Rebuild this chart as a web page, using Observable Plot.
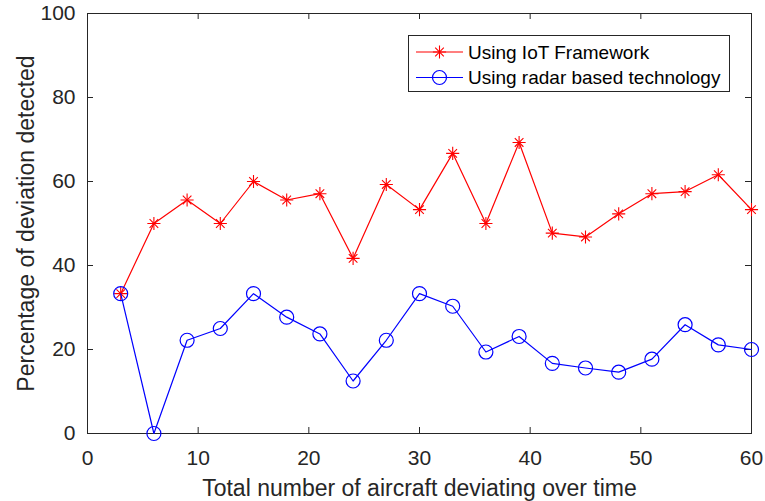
<!DOCTYPE html>
<html>
<head>
<meta charset="utf-8">
<script src="https://cdn.jsdelivr.net/npm/d3@7"></script>
<script src="https://cdn.jsdelivr.net/npm/@observablehq/plot@0.6"></script>
<style>
  html, body { margin: 0; padding: 0; background: #fff; }
  #wrap { position: relative; width: 765px; height: 501px; }
  #legend { position: absolute; left: 408px; top: 35px; }
</style>
</head>
<body>
<div id="wrap"></div>
<script>
const xValues = [3, 6, 9, 12, 15, 18, 21, 24, 27, 30, 33, 36, 39, 42, 45, 48, 51, 54, 57, 60];
const iotValues = [33.3, 50.0, 55.6, 50.0, 60.0, 55.6, 57.1, 41.7, 59.3, 53.3, 66.7, 50.0, 69.3, 47.7, 46.8, 52.3, 57.1, 57.6, 61.6, 53.3];
const radarValues = [33.3, 0.0, 22.2, 25.0, 33.3, 27.7, 23.7, 12.5, 22.2, 33.3, 30.3, 19.4, 23.1, 16.7, 15.6, 14.6, 17.7, 25.9, 21.1, 20.0];
const seriesNames = ["Using IoT Framework", "Using radar based technology"];
const xTicks = [0, 10, 20, 30, 40, 50, 60];
const yTicks = [0, 20, 40, 60, 80, 100];
const xLabel = "Total number of aircraft deviating over time";
const yLabel = "Percentage of deviation detected";

const iot = xValues.map((x, i) => ({x, y: iotValues[i]}));
const radar = xValues.map((x, i) => ({x, y: radarValues[i]}));

const axisColor = "#262626";
const font = "'Liberation Sans', Arial, Helvetica, sans-serif";
const W = 765, H = 501, mL = 87, mR = 14, mT = 13, mB = 68;
const plotH = H - mT - mB;
const tickLen = 6;

const chart = Plot.plot({
  width: W, height: H,
  marginLeft: mL, marginRight: mR, marginTop: mT, marginBottom: mB,
  style: {fontFamily: font, fontSize: "21px", color: axisColor, background: "#fff"},
  x: {domain: [0, 60]},
  y: {domain: [0, 100]},
  marks: [
    Plot.axisX({ticks: xTicks, tickSize: 0, tickPadding: 17, fontSize: 21, label: null, stroke: axisColor, fill: axisColor}),
    Plot.axisY({ticks: yTicks, tickSize: 0, tickPadding: 12, fontSize: 21, label: null, stroke: axisColor, fill: axisColor}),
    // inward ticks on all four sides
    Plot.ruleX(xTicks, {x: d => d, insetTop: plotH - tickLen, stroke: axisColor, strokeWidth: 1}),
    Plot.ruleX(xTicks, {x: d => d, insetBottom: plotH - tickLen, stroke: axisColor, strokeWidth: 1}),
    Plot.ruleY(yTicks, {y: d => d, insetRight: (W - mL - mR) - tickLen, stroke: axisColor, strokeWidth: 1}),
    Plot.ruleY(yTicks, {y: d => d, insetLeft: (W - mL - mR) - tickLen, stroke: axisColor, strokeWidth: 1}),
    Plot.frame({stroke: axisColor, strokeWidth: 1}),
    // IoT series
    Plot.line(iot, {x: "x", y: "y", stroke: "#ff0000", strokeWidth: 1.2}),
    Plot.dot(iot, {x: "x", y: "y", symbol: "plus", r: 4.3, stroke: "#ff0000", fill: "none", strokeWidth: 1.1}),
    Plot.dot(iot, {x: "x", y: "y", symbol: "times", r: 4.0, stroke: "#ff0000", fill: "none", strokeWidth: 1.1}),
    // radar series
    Plot.line(radar, {x: "x", y: "y", stroke: "#0000ff", strokeWidth: 1.2}),
    Plot.dot(radar, {x: "x", y: "y", symbol: "circle", r: 7, stroke: "#0000ff", fill: "none", strokeWidth: 1.2}),
    // axis labels
    Plot.text([xLabel], {text: d => d, frameAnchor: "bottom", dy: 55, lineAnchor: "middle", textAnchor: "middle", fontSize: 23, fill: axisColor}),
    Plot.text([yLabel], {text: d => d, frameAnchor: "left", dx: -61, rotate: -90, lineAnchor: "middle", textAnchor: "middle", fontSize: 23, fill: axisColor})
  ]
});

const wrap = document.getElementById("wrap");
wrap.appendChild(chart);

// Legend
const lw = 322, lh = 57;
const legend = d3.select(wrap).append("div").attr("id", "legend");
const svg = legend.append("svg").attr("width", lw).attr("height", lh)
  .style("display", "block").style("font-family", font);
svg.append("rect").attr("x", 0.5).attr("y", 0.5).attr("width", lw - 1).attr("height", lh - 1)
  .attr("fill", "#fff").attr("stroke", axisColor).attr("stroke-width", 1);
const colors = ["#ff0000", "#0000ff"];
const rowsY = [17, 42.5];
seriesNames.forEach((name, i) => {
  const g = svg.append("g").attr("transform", `translate(0,${rowsY[i]})`);
  g.append("line").attr("x1", 8).attr("x2", 55).attr("y1", 0).attr("y2", 0)
    .attr("stroke", colors[i]).attr("stroke-width", 1.2);
  if (i === 0) {
    g.append("path").attr("transform", "translate(31.5,0)")
      .attr("d", d3.symbol(d3.symbolPlus, Math.PI * 4.3 * 4.3)())
      .attr("fill", "none").attr("stroke", colors[i]).attr("stroke-width", 1.1);
    g.append("path").attr("transform", "translate(31.5,0)")
      .attr("d", d3.symbol(d3.symbolTimes, Math.PI * 4.0 * 4.0)())
      .attr("fill", "none").attr("stroke", colors[i]).attr("stroke-width", 1.1);
  } else {
    g.append("circle").attr("cx", 31.5).attr("cy", 0).attr("r", 7)
      .attr("fill", "none").attr("stroke", colors[i]).attr("stroke-width", 1.2);
  }
  g.append("text").attr("x", 60).attr("y", 0).attr("dy", "0.35em")
    .attr("font-size", 19).attr("fill", "#000").text(name);
});
</script>
</body>
</html>
